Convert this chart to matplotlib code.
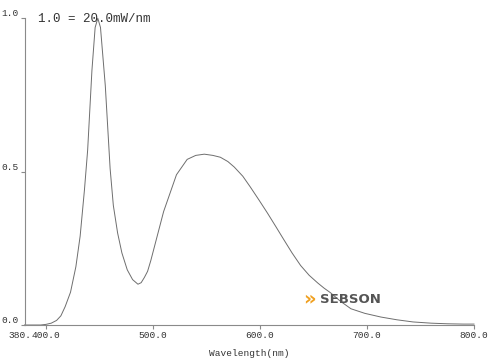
import matplotlib
matplotlib.use("Agg")
import matplotlib.pyplot as plt

# spectrum (relative, 1.0 = 20.0 mW/nm)
wavelength = [380, 395, 400, 405, 410, 414, 418, 423, 428, 432, 436, 439, 443,
              446, 448.5, 451, 455.5, 460, 463, 467, 471, 476, 481, 486, 489,
              492, 495, 498, 504, 510, 516, 522, 527, 532, 540, 548, 556, 563,
              570, 576, 584, 591, 599, 607, 615, 622, 630, 638, 646, 654, 660,
              666, 675, 685, 698, 713, 728, 743, 760, 775, 790, 800]
intensity = [0.0, 0.0, 0.002, 0.006, 0.015, 0.03, 0.06, 0.107, 0.19, 0.29,
             0.44, 0.57, 0.83, 0.97, 1.0, 0.97, 0.78, 0.51, 0.39, 0.30, 0.235,
             0.18, 0.148, 0.133, 0.138, 0.155, 0.175, 0.21, 0.29, 0.37, 0.43,
             0.49, 0.515, 0.54, 0.553, 0.557, 0.553, 0.547, 0.533, 0.515,
             0.485, 0.45, 0.408, 0.365, 0.32, 0.28, 0.235, 0.194, 0.162, 0.137,
             0.12, 0.105, 0.078, 0.053, 0.038, 0.026, 0.017, 0.01, 0.006,
             0.004, 0.003, 0.003]

x_ticks = [400, 500, 600, 700, 800]
x_labels = ["400.0", "500.0", "600.0", "700.0", "800.0"]
x_start = 380
x_start_label = "380."
y_ticks = [0.0, 0.5, 1.0]
y_labels = ["0.0", "0.5", "1.0"]

mono = "Liberation Mono"
grey = "#8a8a8a"
txt = "#333333"
fs = 6.8

fig = plt.figure(figsize=(5, 3.61), dpi=100)
ax = fig.add_axes([0.049, 0.0997, 0.899, 0.8496])

ax.plot(wavelength, intensity, color="#6e6e6e", lw=0.7, clip_on=False)

ax.set_xlim(380, 800)
ax.set_ylim(0, 1.0)

for s in ["top", "right"]:
    ax.spines[s].set_visible(False)
for s in ["left", "bottom"]:
    ax.spines[s].set_color(grey)
    ax.spines[s].set_linewidth(0.8)

ax.set_xticks(x_ticks)
ax.set_xticklabels(x_labels, fontfamily=mono, fontsize=fs, color=txt)
ax.set_yticks(y_ticks)
ax.set_yticklabels(y_labels, fontfamily=mono, fontsize=fs, color=txt)
for lab in ax.get_yticklabels():
    lab.set_va("bottom")
ax.tick_params(axis="both", direction="out", length=3, width=0.8,
               color=grey)
ax.tick_params(axis="x", pad=1.5)
ax.tick_params(axis="y", pad=1)

# start-of-range label, squeezed against "400.0" like the original
ax.annotate(x_start_label, xy=(x_start, 0), xycoords=("data", "axes fraction"),
            xytext=(-3.6, -4.5), textcoords="offset points", ha="center",
            va="top", fontfamily=mono, fontsize=fs, color=txt)

ax.set_xlabel("Wavelength(nm)", fontfamily=mono, fontsize=fs, color=txt,
              labelpad=6)

fig.text(0.076, 0.947, "1.0 = 20.0mW/nm", fontfamily=mono, fontsize=9,
         color=txt, va="center", ha="left")

# logo
fig.text(0.607, 0.172, "\u00bb", fontsize=14, fontweight="bold",
         color="#f0a020", va="center", ha="left")
fig.text(0.640, 0.170, "SEBSON", fontfamily="DejaVu Sans", fontsize=9.5,
         fontweight="bold", color="#555555", va="center", ha="left")

fig.savefig("out.png", dpi=100, facecolor="white")
